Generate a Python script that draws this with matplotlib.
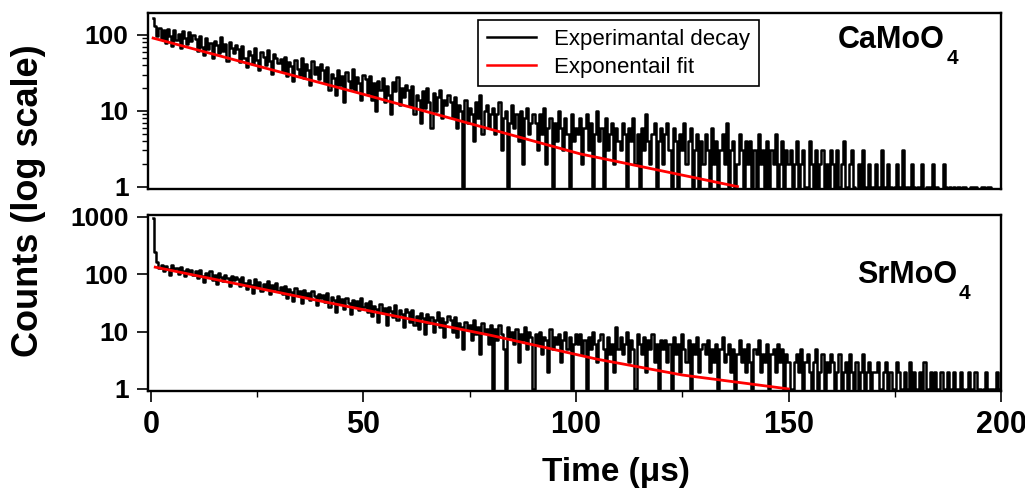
import numpy as np
import matplotlib
matplotlib.use('Agg')
import matplotlib.pyplot as plt
from matplotlib.ticker import LogLocator, MultipleLocator, NullFormatter

plt.rcParams['font.family'] = ['Liberation Sans', 'DejaVu Sans']
plt.rcParams['font.weight'] = 'bold'

# time axis of the decay histograms (0.5 us bins)
time_us = np.arange(1, 401) * 0.5

# CaMoO4 counts (20 bins per row = 10 us)
ca_counts = [
    168, 131, 96, 124, 88, 115, 79, 121, 97, 72, 118, 86, 104, 68, 112, 92, 75, 108, 83, 99,
    88, 61, 97, 70, 54, 91, 66, 79, 49, 84, 73, 58, 93, 62, 77, 45, 82, 68, 57, 74,
    65, 44, 71, 50, 38, 62, 55, 41, 68, 47, 35, 59, 52, 40, 64, 46, 31, 56, 49, 43,
    48, 33, 52, 29, 44, 39, 25, 47, 36, 30, 50, 27, 41, 34, 22, 45, 31, 38, 26, 42,
    35, 24, 38, 19, 31, 27, 16, 34, 22, 29, 13, 32, 25, 20, 36, 18, 28, 23, 14, 30,
    26, 17, 29, 14, 23, 10, 25, 19, 27, 13, 21, 16, 9, 24, 18, 28, 12, 20, 15, 22,
    19, 12, 21, 9, 16, 14, 7, 18, 11, 20, 13, 6, 17, 10, 15, 19, 8, 14, 12, 16,
    13, 8, 15, 6, 12, 10, 1, 14, 7, 11, 9, 4, 13, 8, 16, 5, 10, 12, 6, 9,
    11, 5, 9, 13, 3, 8, 10, 1, 7, 12, 6, 9, 4, 10, 2, 8, 11, 5, 7, 9,
    7, 3, 9, 5, 11, 2, 6, 8, 1, 7, 4, 10, 6, 3, 8, 5, 1, 9, 4, 6,
    5, 8, 2, 6, 9, 3, 7, 1, 5, 10, 4, 6, 0, 8, 3, 5, 7, 2, 6, 4,
    3, 7, 5, 1, 6, 4, 8, 2, 5, 0, 6, 3, 9, 4, 2, 5, 7, 1, 4, 6,
    2, 5, 7, 3, 1, 6, 4, 0, 5, 3, 7, 2, 4, 6, 1, 3, 5, 0, 4, 2,
    5, 3, 1, 6, 2, 4, 0, 3, 5, 2, 7, 1, 3, 4, 0, 2, 5, 3, 1, 4,
    2, 4, 1, 3, 0, 5, 2, 3, 1, 4, 0, 3, 2, 5, 1, 2, 4, 0, 3, 2,
    3, 1, 2, 4, 0, 2, 3, 1, 0, 4, 2, 1, 3, 0, 2, 3, 1, 2, 0, 3,
    2, 0, 3, 1, 2, 4, 1, 0, 2, 3, 1, 0, 2, 1, 3, 0, 1, 2, 0, 1,
    2, 1, 0, 3, 1, 0, 2, 1, 0, 1, 2, 0, 1, 3, 0, 1, 0, 2, 1, 0,
    1, 0, 2, 0, 1, 1, 0, 2, 0, 1, 0, 0, 2, 1, 0, 1, 0, 1, 0, 1,
    0, 1, 1, 0, 0, 1, 1, 1, 0, 0, 1, 1, 0, 1, 1, 0, 0, 0, 0, 0,
]

# SrMoO4 counts
sr_counts = [
    950, 240, 162, 131, 148, 112, 139, 124, 97, 143, 118, 128, 102, 135, 114, 92, 126, 108, 121, 98,
    112, 86, 118, 95, 74, 107, 89, 116, 80, 98, 68, 104, 91, 77, 99, 85, 63, 93, 81, 88,
    84, 63, 90, 71, 55, 79, 66, 48, 82, 60, 73, 52, 69, 58, 77, 45, 64, 56, 70, 51,
    60, 46, 63, 38, 55, 49, 34, 58, 43, 51, 31, 54, 40, 47, 36, 52, 41, 29, 45, 39,
    44, 33, 47, 27, 40, 35, 22, 42, 30, 37, 25, 39, 32, 20, 36, 28, 34, 24, 38, 27,
    31, 22, 34, 19, 28, 25, 15, 30, 21, 26, 13, 27, 23, 18, 29, 16, 24, 20, 12, 25,
    22, 15, 24, 13, 19, 11, 21, 17, 9, 20, 14, 18, 10, 16, 22, 12, 17, 8, 15, 19,
    16, 10, 18, 8, 14, 12, 5, 15, 11, 13, 7, 16, 9, 12, 4, 14, 10, 11, 6, 13,
    1, 11, 7, 13, 9, 5, 1, 12, 8, 10, 6, 11, 3, 9, 7, 12, 5, 10, 8, 1,
    9, 6, 10, 4, 8, 7, 2, 11, 5, 8, 6, 9, 3, 7, 10, 5, 8, 1, 6, 9,
    6, 9, 4, 7, 1, 8, 5, 10, 6, 3, 7, 9, 5, 1, 8, 4, 6, 2, 12, 5,
    8, 4, 6, 10, 3, 7, 5, 1, 9, 6, 4, 8, 2, 7, 5, 9, 3, 6, 1, 7,
    5, 7, 3, 6, 1, 8, 4, 6, 2, 9, 5, 3, 7, 1, 6, 4, 8, 2, 5, 6,
    4, 7, 2, 5, 3, 6, 1, 5, 8, 3, 4, 6, 2, 5, 1, 4, 7, 3, 5, 2,
    6, 3, 1, 5, 4, 7, 2, 4, 3, 6, 1, 4, 5, 2, 6, 3, 5, 1, 4, 3,
    1, 0, 3, 4, 2, 5, 1, 3, 4, 2, 0, 3, 5, 1, 2, 4, 1, 3, 2, 4,
    3, 1, 2, 4, 0, 2, 3, 1, 4, 2, 1, 3, 0, 2, 4, 1, 2, 3, 0, 2,
    2, 3, 1, 0, 2, 3, 1, 2, 0, 1, 3, 2, 1, 0, 2, 1, 3, 1, 2, 0,
    1, 2, 0, 3, 1, 0, 2, 1, 2, 0, 1, 2, 1, 0, 2, 1, 0, 2, 1, 1,
    2, 1, 0, 1, 2, 1, 0, 2, 1, 1, 0, 1, 2, 0, 1, 1, 0, 2, 1, 1,
]

# exponential fit lines
ca_fit_t = [0.5, 50, 101, 138]
ca_fit_y = [91, 16.5, 2.7, 1.0]
sr_fit_t = [1, 40, 80, 105, 125, 150]
sr_fit_y = [133, 34, 8.6, 3.3, 1.75, 1.0]

fig = plt.figure(figsize=(10.25, 4.9), dpi=100)
ax1 = fig.add_axes([0.1444, 0.6143, 0.8322, 0.3592])
ax2 = fig.add_axes([0.1444, 0.2020, 0.8322, 0.3592])

ax1.plot(time_us, ca_counts, color='black', lw=1.8, drawstyle='steps-mid', label='Experimantal decay')
ax1.plot(ca_fit_t, ca_fit_y, color='red', lw=2.0, label='Exponentail fit')
ax2.plot(time_us, sr_counts, color='black', lw=1.8, drawstyle='steps-mid')
ax2.plot(sr_fit_t, sr_fit_y, color='red', lw=2.0)

for ax in (ax1, ax2):
    ax.set_yscale('log', nonpositive='clip')
    ax.set_xlim(-0.7, 200)
    ax.xaxis.set_major_locator(MultipleLocator(50))
    ax.xaxis.set_minor_locator(MultipleLocator(25))
    ax.yaxis.set_minor_locator(LogLocator(base=10, subs=np.arange(2, 10)))
    ax.yaxis.set_minor_formatter(NullFormatter())
    ax.tick_params(axis='both', which='major', direction='out', length=8, width=1.2,
                   pad=6, top=False, right=False)
    ax.tick_params(axis='y', which='major', labelsize=19)
    ax.tick_params(axis='x', which='major', labelsize=22)
    ax.tick_params(axis='both', which='minor', direction='out', length=4, width=1.0,
                   top=False, right=False)
    for s in ax.spines.values():
        s.set_linewidth(1.7)

ax1.set_ylim(0.93, 195)
ax1.set_yticks([1, 10, 100])
ax1.set_yticklabels(['1', '10', '100'])
ax1.tick_params(axis='x', which='both', bottom=False, labelbottom=False)

ax2.set_ylim(0.92, 1080)
ax2.set_yticks([1, 10, 100, 1000])
ax2.set_yticklabels(['1', '10', '100', '1000'])

leg = ax1.legend(loc='upper left', bbox_to_anchor=(0.387, 0.96), borderaxespad=0,
                 fancybox=False, edgecolor='black', framealpha=1, handlelength=2.2,
                 labelspacing=0.3, prop={'size': 16, 'weight': 'normal'})
leg.get_frame().set_linewidth(1.2)
for h in leg.get_lines():
    h.set_linewidth(1.8)

t1 = ax1.text(0.809, 0.80, 'CaMoO', transform=ax1.transAxes, fontsize=22, fontweight='bold')
ax1.annotate('4', xy=(1, 0), xycoords=t1, xytext=(1, 4.5), textcoords='offset points',
             fontsize=15, fontweight='bold', va='top')
t2 = ax2.text(0.831, 0.614, 'SrMoO', transform=ax2.transAxes, fontsize=22, fontweight='bold')
ax2.annotate('4', xy=(1, 0), xycoords=t2, xytext=(1, 4.5), textcoords='offset points',
             fontsize=15, fontweight='bold', va='top')

ax2.set_xlabel('Time (\u03bcs)', fontsize=24, fontweight='bold')
ax2.xaxis.set_label_coords(0.549, -0.375)
fig.text(0.028, 0.59, 'Counts (log scale)', rotation=90, fontsize=26, fontweight='bold',
         ha='center', va='center')

fig.savefig('out.png', dpi=100)
